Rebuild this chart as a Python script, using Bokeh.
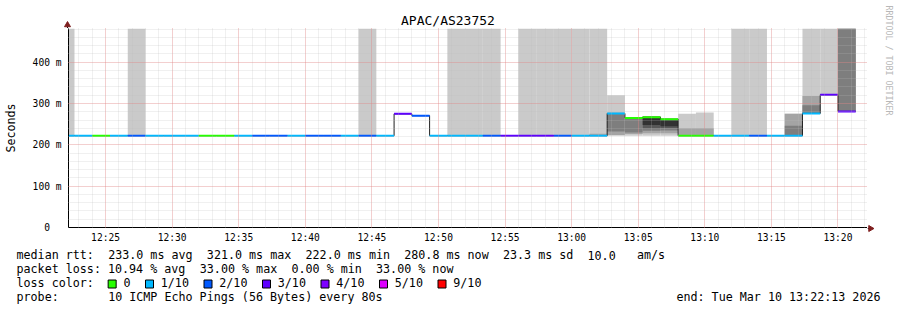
import re
import pandas as pd
from bokeh.plotting import figure
from bokeh.layouts import column, row
from bokeh.core.properties import value
from bokeh.models import (Range1d, SingleIntervalTicker, DatetimeTickFormatter,
                          ColumnDataSource)
from bokeh.embed import file_html
from bokeh.resources import INLINE

# ---------------- data ----------------
graph_title = "APAC/AS23752"
view_start = "2026-03-10 12:22:13"
view_end = "2026-03-10 13:22:13"
last_row_end = "2026-03-10 13:21:20"
step_seconds = 80
y_top_ms = 481.5          # graph upper limit (1.5 x max median)

median_ms = [222, 222, 222, 222, 222, 222, 222, 222, 222, 222,
             222, 222, 222, 222, 222, 222, 222, 222, 222, 275,
             270.6, 222, 222, 222, 222, 222, 222, 222, 222, 222,
             222, 276, 265, 267, 262, 222, 222, 222, 222, 222,
             222, 222, 276, 321, 280.8]

loss_count = [1, 1, 0, 1, 2, 1, 1, 1, 0, 0,
              1, 2, 2, 1, 2, 2, 1, 2, 1, 3,
              2, 1, 1, 1, 2, 3, 3, 3, 2, 1,
              1, 1, 0, 0, 0, 0, 0, 1, 1, 2,
              1, 1, 1, 3, 3]

# sorted ping RTTs per row (ms); values above the graph limit are drawn to the top
ping1 = [222, 222, 222, 222, 222, 222, 222, 222, 222, 222,
         222, 222, 222, 222, 222, 222, 222, 222, 222, 275,
         270.6, 222, 222, 222, 222, 222, 222, 222, 222, 222,
         222, 222, 222, 222, 222, 222, 222, 222, 222, 222,
         222, 222, 276, 321, 280.8]
ping2 = [222, 222, 222, 222, 222, 222, 222, 222, 222, 222,
         222, 222, 222, 222, 222, 222, 222, 222, 222, 275,
         270.6, 222, 222, 222, 222, 222, 222, 222, 222, 222,
         222, 224, 226, 228, 228, 222, 222, 222, 222, 222,
         222, 222, 276, 321, 280.8]
ping3 = [222, 222, 222, 222, 222, 222, 222, 222, 222, 222,
         222, 222, 222, 222, 222, 222, 222, 222, 222, 275,
         270.6, 222, 222, 222, 222, 222, 222, 222, 222, 222,
         222, 232, 230, 234, 235, 222, 222, 222, 222, 222,
         222, 222, 276, 321, 280.8]
ping4 = [222, 222, 222, 222, 222, 222, 222, 222, 222, 222,
         222, 222, 222, 222, 222, 222, 222, 222, 222, 275,
         270.6, 222, 222, 222, 222, 222, 222, 222, 222, 222,
         222, 276, 265, 240, 241, 222, 222, 222, 222, 222,
         222, 222, 276, 321, 280.8]
ping5 = [222, 222, 222, 222, 222, 222, 222, 222, 222, 222,
         222, 222, 222, 222, 222, 222, 222, 222, 222, 275,
         270.6, 222, 222, 222, 222, 222, 222, 222, 222, 222,
         222, 276, 265, 248, 245, 222, 222, 222, 222, 222,
         222, 222, 276, 321, 280.8]
ping6 = [222, 222, 222, 222, 222, 222, 222, 222, 222, 222,
         222, 222, 222, 222, 222, 222, 222, 222, 222, 275,
         270.6, 222, 222, 222, 222, 222, 222, 222, 222, 222,
         222, 276, 265, 267, 262, 222, 222, 222, 222, 222,
         222, 222, 276, 321, 280.8]
ping7 = [222, 222, 222, 222, 222, 222, 222, 222, 222, 222,
         222, 222, 222, 222, 222, 222, 222, 222, 222, 275,
         270.6, 222, 222, 222, 222, 222, 222, 222, 222, 222,
         222, 276, 265, 267, 262, 222, 222, 222, 222, 222,
         222, 222, 276, 321, 280.8]
ping8 = [222, 222, 222, 222, 222, 222, 222, 222, 222, 222,
         222, 222, 222, 222, 222, 222, 222, 222, 222, 275,
         270.6, 222, 222, 222, 222, 222, 222, 222, 222, 222,
         222, 276, 266, 268, 262, 222, 222, 222, 222, 222,
         222, 246, 296, 321, 999]
ping9 = [222, 222, 222, 222, 222, 222, 222, 222, 222, 222,
         222, 222, 222, 222, 222, 222, 222, 222, 222, 275,
         270.6, 222, 222, 222, 222, 222, 222, 222, 222, 222,
         227, 276, 266, 268, 263, 240, 240, 222, 222, 222,
         222, 275, 318, 321, 999]
ping10 = [999, 222, 222, 222, 999, 222, 222, 222, 222, 222,
          222, 222, 222, 222, 222, 222, 222, 999, 222, 275,
          270.6, 222, 999, 999, 999, 222, 999, 999, 999, 999,
          999, 320, 266, 269, 263, 275, 278, 222, 999, 999,
          222, 275, 999, 999, 999]

loss_levels = [0, 1, 2, 3, 4, 5, 9]
loss_labels = ["0", "1/10", "2/10", "3/10", "4/10", "5/10", "9/10"]
loss_colors = ["#26ff00", "#00b8ff", "#0059ff", "#5e00ff", "#7e00ff", "#dd00ff", "#ff0000"]

rtt_stats = [233.0, 321.0, 222.0, 280.8, 23.3]   # avg, max, min, now, sd (ms)
am_per_s = 10.0
loss_stats = [10.94, 33.00, 0.00, 33.00]        # avg, max, min, now (%)
probe_text = "10 ICMP Echo Pings (56 Bytes) every 80s"
end_text = "end: Tue Mar 10 13:22:13 2026"
y_axis_title = "Seconds"
credit_text = "RRDTOOL / TOBI OETIKER"

y_ticks = [0, 100, 200, 300, 400]
y_tick_labels = ["0\u00a0\u00a0", "100 m", "200 m", "300 m", "400 m"]

MONO = "DejaVu Sans Mono"
W, H = 897, 310
FL, FT, FR, FB = 67, 28, 867, 228     # plot-area edges in page pixels
GRAPH_H = 245                          # page height covered by the graph part
AXIS_RED = "#7f1f1f"


def blank(width, height, x0, x1, y0, y1):
    """A figure whose frame is its whole canvas, in page-pixel coordinates."""
    f = figure(width=width, height=height, x_range=Range1d(x0, x1),
               y_range=Range1d(y1, y0), min_border=0, output_backend="svg",
               toolbar_location=None)
    f.axis.visible = False
    f.grid.visible = False
    f.outline_line_color = None
    f.background_fill_color = "white"
    f.border_fill_color = "white"
    f.frame_align = False
    return f


# ---------------- graph figure ----------------
p = figure(width=FR, height=GRAPH_H - FT, x_axis_type="datetime",
           x_range=Range1d(pd.Timestamp(view_start), pd.Timestamp(view_end)),
           y_range=Range1d(0, y_top_ms),
           min_border_left=FL, min_border_right=0, min_border_top=0,
           min_border_bottom=GRAPH_H - FB, output_backend="svg",
           toolbar_location=None)
p.frame_align = False
p.outline_line_color = None
p.background_fill_color = "white"
p.border_fill_color = "white"

row_end = pd.date_range(end=pd.Timestamp(last_row_end), periods=len(median_ms),
                        freq=f"{step_seconds}s")
row_start = row_end - pd.Timedelta(seconds=step_seconds)

pings = [ping1, ping2, ping3, ping4, ping5, ping6, ping7, ping8, ping9, ping10]
n = len(pings)
half = n / 2

# smoke (pairs of sorted pings, darker toward the centre)
for ib in range(1, int(half) + 1):
    it = n + 1 - ib
    g = int(190 / half * (half - ib)) + 50
    col = "#%02x%02x%02x" % (g, g, g)
    L, R, B, T = [], [], [], []
    for k in range(len(median_ms)):
        lo = min(pings[ib - 1][k], y_top_ms)
        hi = min(pings[it - 1][k], y_top_ms)
        if hi > lo:
            L.append(row_start[k]); R.append(row_end[k]); B.append(lo); T.append(hi)
    if L:
        src = ColumnDataSource(dict(left=L, right=R, bottom=B, top=T))
        p.quad(left="left", right="right", bottom="bottom", top="top", source=src,
               fill_color=col, line_color=None)

# median line
p.step(x=list(row_start) + [row_end[-1]], y=median_ms + [median_ms[-1]], mode="after",
       line_color="#202020", line_width=1)

medc = y_top_ms / 200
mcol = []
for l in loss_count:
    for lv, c in zip(loss_levels, loss_colors):
        if l <= lv:
            mcol.append(c)
            break
msrc = ColumnDataSource(dict(left=row_start, right=row_end,
                             bottom=[m - medc for m in median_ms],
                             top=[m + medc for m in median_ms], color=mcol))
p.quad(left="left", right="right", bottom="bottom", top="top", source=msrc,
       fill_color="color", line_color=None)

# axes & grid
xt = SingleIntervalTicker(interval=5 * 60 * 1000, num_minor_ticks=5)
yt = SingleIntervalTicker(interval=100, num_minor_ticks=5)
p.xaxis.ticker = xt
p.xgrid.ticker = xt
p.yaxis.ticker = yt
p.ygrid.ticker = yt
p.xaxis.formatter = DatetimeTickFormatter(minutes="%H:%M", hourmin="%H:%M",
                                          hours="%H:%M", minsec="%H:%M")
p.yaxis.major_label_overrides = {t: s for t, s in zip(y_ticks, y_tick_labels)}

for ax in (p.xaxis, p.yaxis):
    ax.axis_line_color = "black"
    ax.axis_line_width = 1
    ax.major_tick_line_color = None
    ax.minor_tick_line_color = None
    ax.major_tick_out = 0
    ax.major_tick_in = 0
    ax.minor_tick_out = 0
    ax.minor_tick_in = 0
    ax.major_label_text_font = MONO
    ax.major_label_text_font_size = "9.6px"
    ax.major_label_text_color = "black"
p.xaxis.major_label_standoff = 4
p.yaxis.major_label_standoff = 7
p.yaxis.axis_label = y_axis_title
p.yaxis.axis_label_text_font = MONO
p.yaxis.axis_label_text_font_size = "11.7px"
p.yaxis.axis_label_text_font_style = "normal"
p.yaxis.axis_label_text_color = "black"
p.yaxis.axis_label_standoff = 12

p.grid.grid_line_color = "#ff5f5f"
p.grid.grid_line_alpha = 0.45
p.grid.grid_line_dash = "1 1"
p.grid.minor_grid_line_color = "#bababa"
p.grid.minor_grid_line_alpha = 0.45
p.grid.minor_grid_line_dash = "1 1"
p.grid.level = "overlay"

# ---------------- title strip above the graph ----------------
t = blank(FR, FT, 0, FR, 0, FT)
t.text(x=[400.5], y=[19.5], text=[graph_title], text_align="left",
       text_baseline="middle", text_font=value(MONO), text_font_size=value("13px"),
       text_color="black")
t.segment(x0=[FL], y0=[24], x1=[FL], y1=[FT], line_color="black", line_width=1)
t.scatter(x=[FL], y=[24.5], marker="triangle", size=6, fill_color=AXIS_RED,
          line_color=AXIS_RED)

# ---------------- strip right of the graph ----------------
r = blank(W - FR, GRAPH_H, FR, W, 0, GRAPH_H)
r.text(x=[888], y=[5], text=[credit_text], angle=-90, angle_units="deg",
       text_align="left", text_baseline="middle", text_font=value(MONO),
       text_font_size=value("8.3px"), text_color="#b8b8b8")
r.segment(x0=[FR], y0=[FB], x1=[FR + 2], y1=[FB], line_color="black", line_width=1)
r.scatter(x=[FR + 3], y=[FB], marker="triangle", angle=-90, angle_units="deg", size=6,
          fill_color=AXIS_RED, line_color=AXIS_RED)

# ---------------- legend strip below ----------------
q = blank(W, H - GRAPH_H, 0, W, GRAPH_H, H)

CW = 7.05
FS = "11.7px"
tx, ty, tt, ta = [], [], [], []


def put(text, cx, cy, align="left"):
    tx.append(cx); ty.append(cy); tt.append(text); ta.append(align)


def put_line(template, cy, x0=16.0):
    for m in re.finditer(r"\S+(?: \S+)*", template):
        put(m.group(0), x0 + m.start() * CW, cy)


a, mx, mn, now, sd = rtt_stats
line1 = (f"median rtt:  {a:.1f} ms avg  {mx:.1f} ms max  {mn:.1f} ms min  "
         f"{now:.1f} ms now  {sd:.1f} ms sd  {am_per_s:.1f}   am/s")
la, lmx, lmn, lnow = loss_stats
line2 = (f"packet loss: {la:.2f} % avg  {lmx:.2f} % max  {lmn:.2f} % min  "
         f"{lnow:.2f} % now")
put_line(line1, 254.7)
put_line(line2, 268.5)
put_line("loss color:", 282.3)
put_line("probe:", 296.3)
put(probe_text, 16 + 13 * CW, 296.3)
put(end_text, 880, 296.3, align="right")

bl, br, bc = [], [], []
bx = 16 + 13 * CW
for lab, col in zip(loss_labels, loss_colors):
    bl.append(bx); br.append(bx + 8); bc.append(col)
    put(lab, bx + 15.3, 282.3)
    bx += 15.3 + len(lab) * CW + 15

q.quad(left=bl, right=br, top=[279.5] * len(bl), bottom=[287.5] * len(bl),
       fill_color=bc, line_color="black", line_width=1)
q.text(x=tx, y=ty, text=tt, text_align=ta, text_baseline="middle",
       text_font=value(MONO), text_font_size=value(FS), text_color="black")

layout = column(row(column(t, p, spacing=0), r, spacing=0), q, spacing=0)
open("out.html", "w").write(file_html(layout, INLINE))
